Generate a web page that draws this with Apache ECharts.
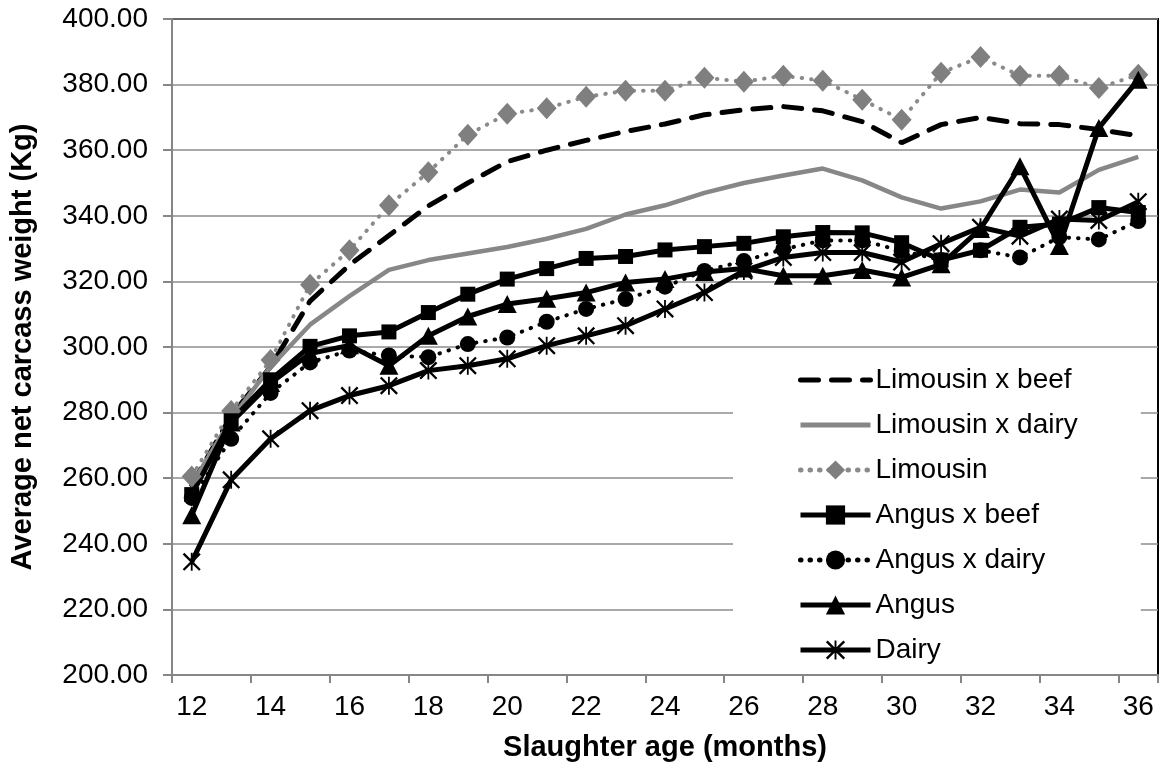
<!DOCTYPE html>
<html><head><meta charset="utf-8">
<script src="https://cdn.jsdelivr.net/npm/echarts@6/dist/echarts.min.js"></script>
<style>html,body{margin:0;padding:0;background:#fff}#c{width:1168px;height:767px}</style>
</head><body><div id="c"></div>
<script>
const categories = ['12','13','14','15','16','17','18','19','20','21','22','23','24','25','26','27','28','29','30','31','32','33','34','35','36'];
const limousinXBeef = [258, 279, 294, 314, 325, 334, 343, 350, 356.5, 360, 363, 365.7, 368, 370.8, 372.3, 373.3, 372, 368.7, 362.3, 367.8, 370, 368.1, 367.8, 366.3, 364.4];
const limousinXDairy = [258, 278, 294, 306.8, 315.5, 323.5, 326.5, 328.5, 330.5, 333, 336, 340.4, 343.2, 347, 350, 352.3, 354.4, 350.8, 345.6, 342.2, 344.4, 348, 347.1, 354, 358];
const limousin = [260.5, 280.5, 296, 319, 329.5, 343.2, 353.3, 364.7, 371.1, 372.8, 376.3, 378.1, 378.1, 382.1, 380.9, 382.7, 381.2, 375.4, 369.3, 383.6, 388.4, 382.7, 382.7, 379, 383];
const angusXBeef = [255, 277.5, 290, 300.2, 303.4, 304.6, 310.5, 316.1, 320.7, 323.9, 327, 327.6, 329.6, 330.6, 331.6, 333.6, 334.9, 334.8, 331.8, 326.5, 329.5, 336.5, 337.5, 342.5, 341];
const angusXDairy = [254, 272, 286, 295.3, 298.9, 297.4, 296.9, 300.9, 302.9, 307.7, 311.6, 314.6, 318.4, 323.2, 326.2, 329.8, 332.5, 332.5, 329.3, 326.5, 329.5, 327.3, 333.5, 332.8, 338.4];
const angus = [248.7, 277, 289, 298, 300.5, 294.3, 303.4, 309.3, 313.1, 314.7, 316.6, 319.7, 320.7, 322.9, 323.9, 321.7, 321.7, 323.5, 321.2, 325.2, 336, 355.1, 330.8, 366.8, 381.5];
const dairy = [234.5, 259.5, 272, 280.6, 285.2, 288.2, 292.8, 294.3, 296.4, 300.4, 303.4, 306.5, 311.6, 316.6, 323.2, 327.3, 328.8, 328.8, 325.9, 331.5, 336.5, 333.8, 339, 338.6, 344.3];
const legendNames = ['Limousin x beef', 'Limousin x dairy', 'Limousin', 'Angus x beef', 'Angus x dairy', 'Angus', 'Dairy'];

const FONT = '"Liberation Sans", Arial, sans-serif';
const asterisk = 'path://M9 0 L11 0 L11 20 L9 20 Z M0 1.8 L1.8 0 L20 18.2 L18.2 20 Z M18.2 0 L20 1.8 L1.8 20 L0 18.2 Z';

const chart = echarts.init(document.getElementById('c'), null, {renderer: 'canvas'});
chart.setOption({
  animation: false,
  backgroundColor: '#fff',
  textStyle: {fontFamily: FONT},
  grid: {left: 170, right: 10, top: 19, bottom: 90, show: true, borderColor: '#000', borderWidth: 2, backgroundColor: 'transparent'},
  legend: {
    orient: 'vertical', left: 733, top: 356, selectedMode: false,
    itemWidth: 70, itemHeight: 24, itemGap: 13,
    backgroundColor: '#fff', padding: [8, 63, 8, 65],
    textStyle: {fontSize: 28, fontFamily: FONT, color: '#000', lineHeight: 32},
    lineStyle: {width: 5},
    data: legendNames.map((n, i) => i < 2 ? {name: n, itemStyle: {opacity: 0}} : {name: n})
  },
  xAxis: {
    type: 'category', data: categories, boundaryGap: true,
    name: 'Slaughter age (months)', nameLocation: 'middle', nameGap: 58,
    nameTextStyle: {fontSize: 29, fontWeight: 'bold', color: '#000', fontFamily: FONT},
    axisLine: {lineStyle: {color: '#868686', width: 2}},
    axisTick: {show: true, interval: 1, length: 8, lineStyle: {color: '#868686', width: 2}},
    axisLabel: {interval: 1, fontSize: 28, color: '#000', margin: 18, fontFamily: FONT},
    splitLine: {show: false}
  },
  yAxis: {
    type: 'value', min: 200, max: 400, interval: 20,
    name: 'Average net carcass weight (Kg)', nameLocation: 'middle', nameGap: 135,
    nameTextStyle: {fontSize: 29, fontWeight: 'bold', color: '#000', fontFamily: FONT},
    axisLine: {show: true, lineStyle: {color: '#868686', width: 2}},
    axisTick: {show: true, length: 9, lineStyle: {color: '#868686', width: 2}},
    axisLabel: {fontSize: 28, color: '#000', margin: 24, fontFamily: FONT, formatter: v => v.toFixed(2)},
    splitLine: {show: true, lineStyle: {color: '#8c8c8c', width: 1.5}}
  },
  series: [
    {name: 'Limousin x beef', type: 'line', data: limousinXBeef, symbol: 'circle', showSymbol: false, color: '#000',
     itemStyle: {color: '#000', opacity: 0},
     lineStyle: {color: '#000', width: 5, type: [18, 13], cap: 'round', opacity: 1}},
    {name: 'Limousin x dairy', type: 'line', data: limousinXDairy, symbol: 'circle', showSymbol: false, color: '#878787',
     itemStyle: {color: '#878787', opacity: 0},
     lineStyle: {color: '#878787', width: 4.5, opacity: 1}},
    {name: 'Limousin', type: 'line', data: limousin, symbol: 'diamond', symbolSize: [20, 22], color: '#7f7f7f',
     itemStyle: {color: '#7f7f7f'}, lineStyle: {color: '#8a8a8a', width: 4, type: [0.5, 9], cap: 'round'}},
    {name: 'Angus x beef', type: 'line', data: angusXBeef, symbol: 'rect', symbolSize: 15, color: '#000',
     itemStyle: {color: '#000'}, lineStyle: {color: '#000', width: 5}},
    {name: 'Angus x dairy', type: 'line', data: angusXDairy, symbol: 'circle', symbolSize: 16, color: '#000',
     itemStyle: {color: '#000'}, lineStyle: {color: '#000', width: 4, type: [0.5, 9], cap: 'round'}},
    {name: 'Angus', type: 'line', data: angus, symbol: 'triangle', symbolSize: [19, 18], color: '#000',
     itemStyle: {color: '#000'}, lineStyle: {color: '#000', width: 5}},
    {name: 'Dairy', type: 'line', data: dairy, symbol: asterisk, symbolSize: 18, color: '#000',
     itemStyle: {color: '#000'}, lineStyle: {color: '#000', width: 5}}
  ]
});
</script></body></html>
